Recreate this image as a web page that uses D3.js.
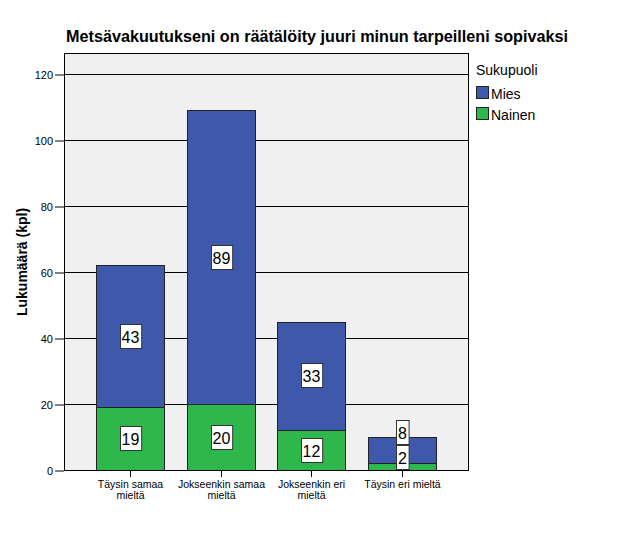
<!DOCTYPE html>
<html><head><meta charset="utf-8">
<script src="https://cdn.jsdelivr.net/npm/d3@7"></script>
<style>body{margin:0;background:#fff;font-family:"Liberation Sans",Arial,sans-serif}</style>
</head><body><svg id="c" width="626" height="541"></svg>
<script>
const title = "Metsävakuutukseni on räätälöity juuri minun tarpeilleni sopivaksi";
const categories = [["Täysin samaa","mieltä"],["Jokseenkin samaa","mieltä"],["Jokseenkin eri","mieltä"],["Täysin eri mieltä"]];
const catKeys = categories.map(c => c.join(" "));
const seriesNames = ["Nainen","Mies"];
const nainen = [19, 20, 12, 2];
const mies = [43, 89, 33, 8];
const yTicks = [0,20,40,60,80,100,120];
const colors = {Mies:"#3e58ac", Nainen:"#2eb84c"};
const legendTitle = "Sukupuoli";
const yLabel = "Lukumäärä (kpl)";

const svg = d3.select("#c");
const m = {l:64, r:468, t:53, b:470};
const x = d3.scaleBand().domain(catKeys).range([m.l, m.r]).paddingInner(0.253).paddingOuter(0.35);
const y = d3.scaleLinear().domain([0,120]).range([m.b, 74]);

svg.append("text").attr("x",317).attr("y",42).attr("text-anchor","middle")
  .attr("font-size",16.2).attr("font-weight","bold").text(title);

svg.append("rect").attr("x",m.l).attr("y",m.t).attr("width",m.r-m.l).attr("height",m.b-m.t)
  .attr("fill","#f0f0f0");

// gridlines
svg.append("g").selectAll("line").data(yTicks.filter(d=>d>0)).join("line")
  .attr("x1",m.l).attr("x2",m.r).attr("y1",d=>Math.round(y(d))+0.5).attr("y2",d=>Math.round(y(d))+0.5)
  .attr("stroke","#000").attr("stroke-width",1);

// y axis
const ya = svg.append("g").attr("transform",`translate(${m.l},0.5)`)
  .call(d3.axisLeft(y).tickValues(yTicks).tickSize(9).tickPadding(2));
ya.select(".domain").remove();
ya.selectAll("text").attr("font-size",11).attr("font-family","Liberation Sans, Arial").attr("fill","#000");
ya.selectAll("line").attr("stroke","#000");

svg.append("text").attr("transform",`translate(27,262) rotate(-90)`).attr("text-anchor","middle")
  .attr("font-size",14).attr("font-weight","bold").text(yLabel);

// stacks
const rows = catKeys.map((k,i)=>({cat:k, Nainen:nainen[i], Mies:mies[i]}));
const stack = d3.stack().keys(seriesNames)(rows);
const segs = [];
stack.forEach(s => s.forEach(d => segs.push({key:s.key, cat:d.data.cat, y0:d[0], y1:d[1], v:d[1]-d[0]})));
svg.append("g").selectAll("rect").data(segs).join("rect")
  .attr("x",d=>Math.round(x(d.cat))+0.5).attr("width",Math.round(x.bandwidth()))
  .attr("y",d=>Math.round(y(d.y1))+0.5).attr("height",d=>Math.round(y(d.y0))-Math.round(y(d.y1)))
  .attr("fill",d=>colors[d.key]).attr("stroke","#222").attr("stroke-width",1);

// border
svg.append("rect").attr("x",m.l+0.5).attr("y",m.t+0.5).attr("width",m.r-m.l).attr("height",m.b-m.t)
  .attr("fill","none").attr("stroke","#000");

// x axis ticks and labels
const xa = svg.append("g");
categories.forEach((c,i)=>{
  const cx = Math.round(x(catKeys[i]) + x.bandwidth()/2) + 0.5;
  xa.append("line").attr("x1",cx).attr("x2",cx).attr("y1",m.b).attr("y2",m.b+7).attr("stroke","#000");
  const t = xa.append("text").attr("text-anchor","middle").attr("font-size",10.5);
  c.forEach((ln,j)=>t.append("tspan").attr("x",cx).attr("y",m.b+18+j*11).text(ln));
});

// value labels with collision avoidance
const bh = 25;
const labs = segs.map(d=>({...d, cx:Math.round(x(d.cat)+x.bandwidth()/2)+0.5, cy:(y(d.y0)+y(d.y1))/2}));
catKeys.forEach(k=>{
  const ls = labs.filter(l=>l.cat===k).sort((a,b)=>b.cy-a.cy);
  let floor = m.b;
  ls.forEach(l=>{ if (l.cy + bh/2 > floor) l.cy = floor - bh/2; floor = l.cy - bh/2; });
});
const lg = svg.append("g").selectAll("g").data(labs).join("g");
lg.each(function(d){
  const g = d3.select(this);
  const txt = String(d.v);
  const w = txt.length*8.6 + 4;
  g.append("rect").attr("x",Math.round(d.cx - w/2)+0.5).attr("y",Math.round(d.cy-bh/2)+0.5)
    .attr("width",w).attr("height",bh-1).attr("fill","#fff").attr("stroke","#333");
  g.append("text").attr("x",d.cx).attr("y",d.cy+6.5).attr("text-anchor","middle").attr("font-size",16).text(txt);
});

// legend
const leg = svg.append("g");
leg.append("text").attr("x",476).attr("y",75).attr("font-size",14).text(legendTitle);
["Mies","Nainen"].forEach((n,i)=>{
  leg.append("rect").attr("x",476.5).attr("y",86.5+i*21).attr("width",12).attr("height",12)
    .attr("fill",colors[n]).attr("stroke","#222");
  leg.append("text").attr("x",491).attr("y",99+i*21).attr("font-size",14).text(n);
});
</script></body></html>
